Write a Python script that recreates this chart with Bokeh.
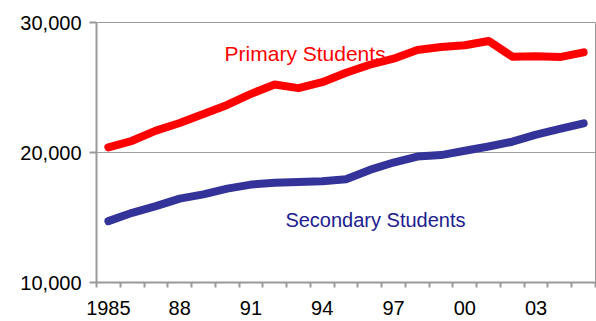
from bokeh.plotting import figure
from bokeh.models import FixedTicker, Range1d, Label, NumeralTickFormatter
from bokeh.embed import file_html
from bokeh.resources import INLINE

years = list(range(1985, 2006))
primary = [20400, 20900, 21680, 22270, 22970, 23660, 24510, 25230, 24950, 25410,
           26130, 26750, 27220, 27880, 28110, 28250, 28580, 27370, 27400, 27340, 27700]
secondary = [14720, 15360, 15880, 16450, 16780, 17220, 17530, 17680, 17740, 17790,
             17940, 18660, 19230, 19690, 19800, 20130, 20460, 20830, 21370, 21810, 22240]
x_tick_years = [1985, 1988, 1991, 1994, 1997, 2000, 2003]
x_tick_labels = ["1985", "88", "91", "94", "97", "00", "03"]
y_ticks = [10000, 20000, 30000]

FONT = "Liberation Sans"
GRAY = "#999999"

p = figure(width=596, height=321, output_backend="svg", toolbar_location=None,
           x_range=Range1d(1984.5, 2005.5), y_range=Range1d(10000, 30000),
           min_border_left=96, min_border_right=1, min_border_top=22, min_border_bottom=39)
p.background_fill_color = "white"
p.border_fill_color = "white"
p.outline_line_color = GRAY
p.outline_line_width = 1

p.line(years, primary, line_color="#ff0000", line_width=8, line_cap="round", line_join="round")
p.line(years, secondary, line_color="#333399", line_width=8, line_cap="round", line_join="round")

# x axis
p.xaxis.ticker = FixedTicker(ticks=x_tick_years, minor_ticks=[y - 0.5 for y in years] + [2005.5])
p.xaxis.major_label_overrides = {y: l for y, l in zip(x_tick_years, x_tick_labels)}
p.xaxis.major_tick_out = 0
p.xaxis.major_tick_in = 0
p.xaxis.minor_tick_out = 5
p.xaxis.minor_tick_in = 0
p.xaxis.minor_tick_line_color = GRAY
p.xaxis.minor_tick_line_width = 2
p.xaxis.axis_line_color = GRAY
p.xaxis.axis_line_width = 2
p.xaxis.major_label_text_font = FONT
p.xaxis.major_label_text_font_size = "20px"
p.xaxis.major_label_text_color = "black"
p.xaxis.major_label_standoff = 13

# y axis
p.yaxis.ticker = FixedTicker(ticks=y_ticks, minor_ticks=[])
p.yaxis.formatter = NumeralTickFormatter(format="0,0")
p.yaxis.major_tick_out = 7
p.yaxis.major_tick_in = 0
p.yaxis.major_tick_line_color = GRAY
p.yaxis.major_tick_line_width = 2
p.yaxis.axis_line_color = GRAY
p.yaxis.axis_line_width = 2
p.yaxis.major_label_text_font = FONT
p.yaxis.major_label_text_font_size = "20px"
p.yaxis.major_label_text_color = "black"
p.yaxis.major_label_standoff = 8

p.xgrid.grid_line_color = None
p.ygrid.grid_line_color = "#a0a0a0"
p.ygrid.grid_line_width = 1

p.add_layout(Label(x=1989.89, y=27628, text="Primary Students", text_font=FONT,
                   text_font_size="21px", text_color="#ff0000",
                   text_baseline="alphabetic", text_align="left"))
p.add_layout(Label(x=1992.45, y=14799, text="Secondary Students", text_font=FONT,
                   text_font_size="20px", text_color="#202090",
                   text_baseline="alphabetic", text_align="left"))

open("out.html", "w").write(file_html(p, INLINE))
